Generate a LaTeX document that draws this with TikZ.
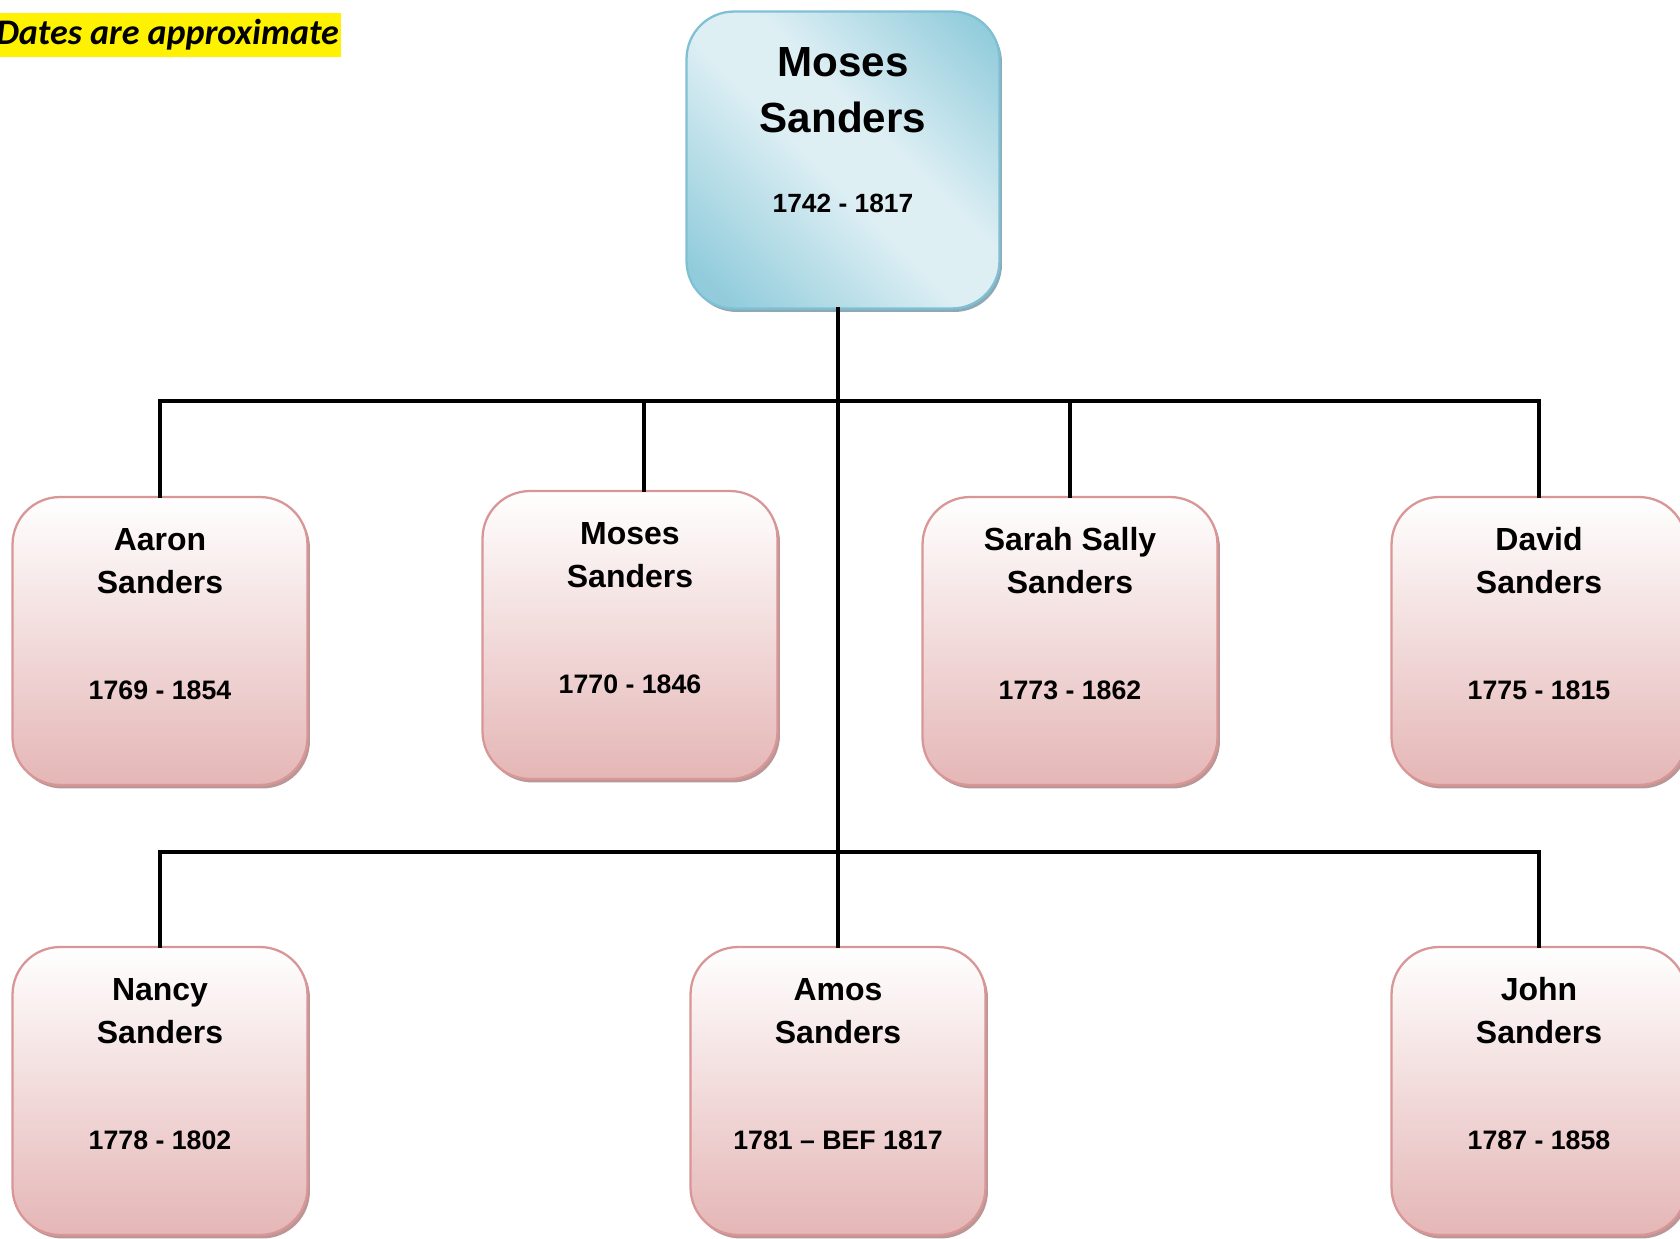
\documentclass[tikz,border=0pt]{standalone}
\usepackage{fontspec}
\setmainfont{Liberation Sans}
\newfontfamily\notefont{Carlito}
\usetikzlibrary{shadows}

\definecolor{pinkline}{RGB}{216,150,150}
\definecolor{pinkfill}{RGB}{229,182,182}
\definecolor{pinkshadow}{RGB}{186,150,150}
\definecolor{blueline}{RGB}{128,192,212}
\definecolor{bluedark}{RGB}{146,204,220}
\definecolor{bluelight}{RGB}{222,239,244}
\definecolor{blueshadow}{RGB}{140,170,182}
\pgfdeclareverticalshading{bluediag}{100bp}{color(0bp)=(bluedark); color(20bp)=(bluedark);
  color(47bp)=(bluelight); color(57bp)=(bluelight); color(82bp)=(bluedark); color(100bp)=(bluedark)}

\begin{document}
\begin{tikzpicture}[x=0.02cm,y=-0.02cm,
  kid/.style={draw=pinkline,line width=1.3pt,rounded corners=0.95cm,
    minimum width=5.9cm,minimum height=5.76cm,top color=white,bottom color=pinkfill,
    drop shadow={shadow xshift=0.05cm,shadow yshift=-0.07cm,fill=pinkshadow,opacity=1}},
  parent/.style={draw=blueline,line width=1.3pt,rounded corners=0.95cm,
    minimum width=6.26cm,minimum height=5.94cm,shading=bluediag,shading angle=-45,
    drop shadow={shadow xshift=0.05cm,shadow yshift=-0.07cm,fill=blueshadow,opacity=1}},
  nm/.style={align=center,inner sep=0pt,font=\fontsize{18.2}{24.6}\selectfont\bfseries},
  dt/.style={inner sep=0pt,font=\fontsize{15.2}{18}\selectfont\bfseries},
  bignm/.style={align=center,inner sep=0pt,font=\fontsize{24}{32}\selectfont\bfseries},
  bigdt/.style={inner sep=0pt,font=\fontsize{15}{17}\selectfont\bfseries},
  link/.style={line width=2.5pt,line cap=rect}]

\useasboundingbox (0,0) rectangle (1680,1239);

% note in the corner
\node[fill=yellow,inner xsep=1pt,inner ysep=0pt,minimum height=0.88cm,anchor=east,
  font=\notefont\fontsize{20.5}{22}\selectfont\bfseries\itshape] (note) at (341,35) {Dates are approximate};

% parent
\node[parent] (moses) at (843,160) {};
\node[bignm] (mosesN) at ([yshift=-1.6cm]moses.north) {Moses\\Sanders};
\node[bigdt] (mosesD) at ([yshift=-3.86cm]moses.north) {1742 - 1817};

% children, first row
\node[kid] (aaron) at (160,641) {};
\node[nm] (aaronN) at ([yshift=-1.3cm]aaron.north) {Aaron\\Sanders};
\node[dt] (aaronD) at ([yshift=-3.88cm]aaron.north) {1769 - 1854};

\node[kid] (mosesjr) at (630,635) {};
\node[nm] (mosesjrN) at ([yshift=-1.3cm]mosesjr.north) {Moses\\Sanders};
\node[dt] (mosesjrD) at ([yshift=-3.88cm]mosesjr.north) {1770 - 1846};

\node[kid] (sarah) at (1070,641) {};
\node[nm] (sarahN) at ([yshift=-1.3cm]sarah.north) {Sarah Sally\\Sanders};
\node[dt] (sarahD) at ([yshift=-3.88cm]sarah.north) {1773 - 1862};

\node[kid] (david) at (1539,641) {};
\node[nm] (davidN) at ([yshift=-1.3cm]david.north) {David\\Sanders};
\node[dt] (davidD) at ([yshift=-3.88cm]david.north) {1775 - 1815};

% children, second row
\node[kid] (nancy) at (160,1091) {};
\node[nm] (nancyN) at ([yshift=-1.3cm]nancy.north) {Nancy\\Sanders};
\node[dt] (nancyD) at ([yshift=-3.88cm]nancy.north) {1778 - 1802};

\node[kid] (amos) at (838,1091) {};
\node[nm] (amosN) at ([yshift=-1.3cm]amos.north) {Amos\\Sanders};
\node[dt] (amosD) at ([yshift=-3.88cm]amos.north) {1781 -- BEF 1817};

\node[kid] (john) at (1539,1091) {};
\node[nm] (johnN) at ([yshift=-1.3cm]john.north) {John\\Sanders};
\node[dt] (johnD) at ([yshift=-3.88cm]john.north) {1787 - 1858};

% connectors
\coordinate (bar1) at (839,401);
\coordinate (bar2) at (839,852);
\draw[link] (moses.south -| amos.north) -- (amos.north);
\draw[link] (aaron.north) -- (aaron.north |- bar1) -| (david.north);
\draw[link] ([xshift=0.28cm]mosesjr.north) -- ([xshift=0.28cm]mosesjr.north |- bar1);
\draw[link] (sarah.north) -- (sarah.north |- bar1);
\draw[link] (nancy.north) -- (nancy.north |- bar2) -| (john.north);

\end{tikzpicture}
\end{document}
